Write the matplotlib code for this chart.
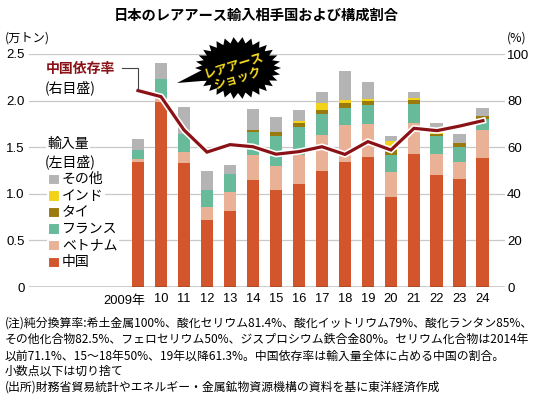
import numpy as np
import matplotlib
matplotlib.use("Agg")
import matplotlib.pyplot as plt
import matplotlib.patheffects as pe
from matplotlib.patches import Polygon, Rectangle

plt.rcParams['font.family'] = ['Liberation Sans', 'Noto Sans CJK JP']

# ---- data ----
years = ['2009年', '10', '11', '12', '13', '14', '15', '16', '17', '18', '19', '20', '21', '22', '23', '24']
china   = [1.34, 1.98, 1.33, 0.72, 0.82, 1.15, 1.04, 1.10, 1.25, 1.34, 1.39, 0.97, 1.43, 1.20, 1.155, 1.38]
vietnam = [0.03, 0.05, 0.12, 0.14, 0.20, 0.27, 0.26, 0.32, 0.38, 0.40, 0.36, 0.26, 0.33, 0.23, 0.19, 0.30]
france  = [0.10, 0.20, 0.19, 0.18, 0.19, 0.24, 0.32, 0.30, 0.23, 0.18, 0.20, 0.19, 0.20, 0.19, 0.16, 0.12]
thai    = [0.00, 0.00, 0.00, 0.00, 0.00, 0.02, 0.04, 0.04, 0.04, 0.05, 0.05, 0.05, 0.05, 0.02, 0.04, 0.04]
india   = [0.00, 0.00, 0.00, 0.00, 0.00, 0.00, 0.00, 0.025, 0.07, 0.04, 0.02, 0.10, 0.015, 0.01, 0.00, 0.00]
other   = [0.115, 0.17, 0.29, 0.20, 0.10, 0.23, 0.16, 0.115, 0.12, 0.31, 0.18, 0.05, 0.065, 0.115, 0.10, 0.085]
dependency = [84.3, 81.7, 67.4, 57.9, 61.1, 60.2, 57.0, 58.1, 60.2, 56.9, 62.4, 58.8, 68.1, 67.1, 69.1, 71.4]

series_names = ['中国', 'ベトナム', 'フランス', 'タイ', 'インド', 'その他']
series_vals = [china, vietnam, france, thai, india, other]
colors = ['#D3552B', '#E9B296', '#67BA9A', '#9A7A0C', '#F3D21A', '#B4B4B4']
line_color = '#8A1216'

W, H = 541, 399
fig = plt.figure(figsize=(W / 100, H / 100), dpi=100)
fig.patch.set_facecolor('white')

ax = fig.add_axes([29 / W, (H - 287) / H, (505 - 29) / W, (287 - 54) / H])
x = np.arange(len(years))
bottom = np.zeros(len(years))
for name, vals, c in zip(series_names, series_vals, colors):
    ax.bar(x, vals, width=0.56, bottom=bottom, color=c, zorder=2, linewidth=0)
    bottom += np.array(vals)

ax.set_xlim(-4.74, 15.96)
ax.set_ylim(0, 2.5)
ax.set_yticks([0, 0.5, 1.0, 1.5, 2.0, 2.5])
ax.set_yticklabels(['0', '0.5', '1.0', '1.5', '2.0', '2.5'], fontsize=9.5)
ax.set_xticks(x)
ax.set_xticklabels([''] + years[1:], fontsize=9.3)
ax.text(0.3, -0.035, years[0], ha='right', va='top', fontsize=9.3,
        transform=ax.get_xaxis_transform())
ax.tick_params(axis='both', length=0, pad=3)
ax.tick_params(axis='x', pad=4)
for s in ax.spines.values():
    s.set_visible(False)
ax.grid(axis='y', color='#C9C9C9', linewidth=0.9, zorder=0)
ax.set_axisbelow(True)
ax.axhline(0, color='#222222', linewidth=1.0, zorder=3)

ax2 = ax.twinx()
ax2.set_ylim(0, 100)
ax2.set_yticks([0, 20, 40, 60, 80, 100])
ax2.set_yticklabels(['0', '20', '40', '60', '80', '100'], fontsize=9.5)
ax2.tick_params(axis='y', length=0, pad=1.5)
for s in ax2.spines.values():
    s.set_visible(False)
ax2.plot(x, dependency, color=line_color, linewidth=2.3, zorder=5,
         solid_joinstyle='miter',
         path_effects=[pe.Stroke(linewidth=4.6, foreground='white'), pe.Normal()])

# ---- overlay in pixel coordinates ----
ov = fig.add_axes([0, 0, 1, 1], zorder=10)
ov.set_xlim(0, W)
ov.set_ylim(H, 0)
ov.axis('off')
ov.patch.set_alpha(0)

ov.text(256, 16, '日本のレアアース輸入相手国および構成割合', ha='center', va='center',
        fontsize=10.3, fontweight='bold', family=['Noto Sans CJK JP'])
ov.text(5, 38, '(万トン)', ha='left', va='center', fontsize=8.8, family=['Noto Sans CJK JP'])
ov.text(507, 38, '(%)', ha='left', va='center', fontsize=8.8, family=['Noto Sans CJK JP'])

wb = dict(facecolor='white', edgecolor='none', pad=1.0)
ov.text(46, 69, '中国依存率', ha='left', va='center', fontsize=10, color=line_color,
        fontweight='bold', family=['Noto Sans CJK JP'])
ov.text(45, 88, '(右目盛)', ha='left', va='center', fontsize=10, family=['Noto Sans CJK JP'])
# leader line to the first point of the line
px, py = ax2.transData.transform((x[0], dependency[0]))
ov.plot([122, px, px], [68, 68, H - py - 2], color='#444444', linewidth=0.8)

ov.text(47, 144, '輸入量', ha='left', va='center', fontsize=10, bbox=wb, family=['Noto Sans CJK JP'])
ov.text(45, 162, '(左目盛)', ha='left', va='center', fontsize=10, bbox=wb, family=['Noto Sans CJK JP'])
legend_order = ['その他', 'インド', 'タイ', 'フランス', 'ベトナム', '中国']
ly0, dly = 179, 16.6
for i, name in enumerate(legend_order):
    c = colors[series_names.index(name)]
    yy = ly0 + i * dly
    ov.add_patch(Rectangle((48, yy - 5.5), 11.5, 11.5, facecolor=c, edgecolor='white', linewidth=1.5))
    ov.text(62, yy, name, ha='left', va='center', fontsize=10, bbox=wb, family=['Noto Sans CJK JP'])

# starburst callout
cx, cy = 238, 68
n = 30
ang = np.linspace(0, 2 * np.pi, 2 * n, endpoint=False)
rx = np.where(np.arange(2 * n) % 2 == 0, 43, 36)
ry = np.where(np.arange(2 * n) % 2 == 0, 31, 25)
pts = np.column_stack([cx + rx * np.cos(ang), cy + ry * np.sin(ang)])
ov.add_patch(Polygon(pts, closed=True, facecolor='black', edgecolor='none'))
ov.add_patch(Polygon([[206, 68], [177, 83], [214, 80]], closed=True, facecolor='black', edgecolor='none'))
ov.text(cx - 2, cy + 4, 'レアアース\nショック', ha='center', va='center', rotation=17,
        fontsize=8.9, fontweight='bold', color='#F5DA1E', linespacing=0.95,
        family=['Noto Sans CJK JP'])

notes = [
    '(注)純分換算率:希土金属100%、酸化セリウム81.4%、酸化イットリウム79%、酸化ランタン85%、',
    'その他化合物82.5%、フェロセリウム50%、ジスプロシウム鉄合金80%。セリウム化合物は2014年',
    '以前71.1%、15～18年50%、19年以降61.3%。中国依存率は輸入量全体に占める中国の割合。',
    '小数点以下は切り捨て',
    '(出所)財務省貿易統計やエネルギー・金属鉱物資源機構の資料を基に東洋経済作成',
]
note_y = [323, 339, 356, 371, 387]
note_texts = [ov.text(5, yy, t, ha='left', va='center', fontsize=8.7, family=['Noto Sans CJK JP'])
              for t, yy in zip(notes, note_y)]
# shrink note font so the widest line fits the width used in the reference
fig.canvas.draw()
r = fig.canvas.get_renderer()
maxw = max(t.get_window_extent(r).width for t in note_texts)
scale = min(1.0, 529.0 / maxw)
for t in note_texts:
    t.set_fontsize(8.7 * scale)

fig.savefig('out.png', dpi=100, facecolor='white')
